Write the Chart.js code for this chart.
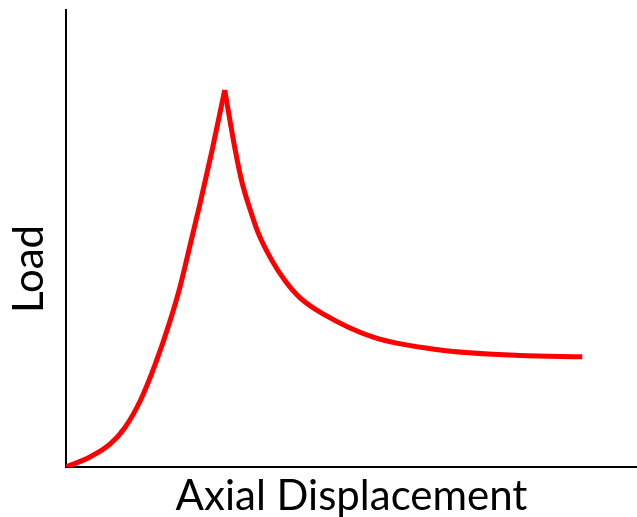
<!DOCTYPE html>
<html>
<head>
<meta charset="utf-8">
<script src="https://cdn.jsdelivr.net/npm/chart.js@4"></script>
<style>
  html, body { margin: 0; padding: 0; background: #fff; }
  #wrap { width: 637px; height: 517px; }
</style>
</head>
<body>
<div id="wrap"><canvas id="myChart" width="637" height="517"></canvas></div>
<script>
var xTitle = 'Axial Displacement';
var yTitle = 'Load';

// rising branch up to the peak
var riseX = [0, 0.42, 0.77, 1.03, 1.30, 1.56, 1.82, 2.00, 2.17, 2.35, 2.56, 2.78];
var riseY = [0, 0.22, 0.50, 0.86, 1.45, 2.24, 3.19, 3.96, 4.84, 5.78, 6.94, 8.25];
// softening branch after the peak
var fallX = [2.78, 2.87, 2.96, 3.08, 3.22, 3.36, 3.61, 3.84, 4.10, 4.50, 5.38, 6.55, 7.95, 9.04];
var fallY = [8.25, 7.59, 6.96, 6.24, 5.65, 5.14, 4.51, 4.07, 3.70, 3.35, 2.84, 2.56, 2.44, 2.41];

function pts(xs, ys) {
  return xs.map(function (x, i) { return { x: x, y: ys[i] }; });
}

var FONT = "Lato, 'Open Sans', sans-serif";

// axis titles drawn by hand: the y one sits below the axis middle
var titlePlugin = {
  id: 'axisTitles',
  afterDraw: function (chart) {
    var ctx = chart.ctx;
    var area = chart.chartArea;
    ctx.save();
    ctx.font = '42px ' + FONT;
    ctx.fillStyle = '#000';
    ctx.textAlign = 'center';
    ctx.textBaseline = 'alphabetic';
    ctx.fillText(xTitle, (area.left + area.right) / 2, 510);
    ctx.translate(43, 269);
    ctx.rotate(-Math.PI / 2);
    ctx.fillText(yTitle, 0, 0);
    ctx.restore();
  }
};

var line = {
  borderColor: '#ff0000',
  borderWidth: 5,
  pointRadius: 0,
  fill: false,
  showLine: true,
  cubicInterpolationMode: 'monotone'
};

var config = {
  type: 'scatter',
  data: {
    datasets: [
      Object.assign({ data: pts(riseX, riseY) }, line),
      Object.assign({ data: pts(fallX, fallY) }, line)
    ]
  },
  options: {
    responsive: false,
    animation: false,
    layout: { padding: { top: 10, right: 0, left: 0, bottom: 0 } },
    plugins: { legend: { display: false }, tooltip: { enabled: false } },
    scales: {
      x: {
        type: 'linear', min: 0, max: 10,
        grid: { display: false },
        border: { display: true, color: '#000', width: 2 },
        ticks: { display: false },
        afterFit: function (s) { s.height = 50; }
      },
      y: {
        type: 'linear', min: 0, max: 10,
        grid: { display: false },
        border: { display: true, color: '#000', width: 2 },
        ticks: { display: false },
        afterFit: function (s) { s.width = 66; }
      }
    }
  },
  plugins: [titlePlugin]
};

new Chart(document.getElementById('myChart'), config);
</script>
</body>
</html>
